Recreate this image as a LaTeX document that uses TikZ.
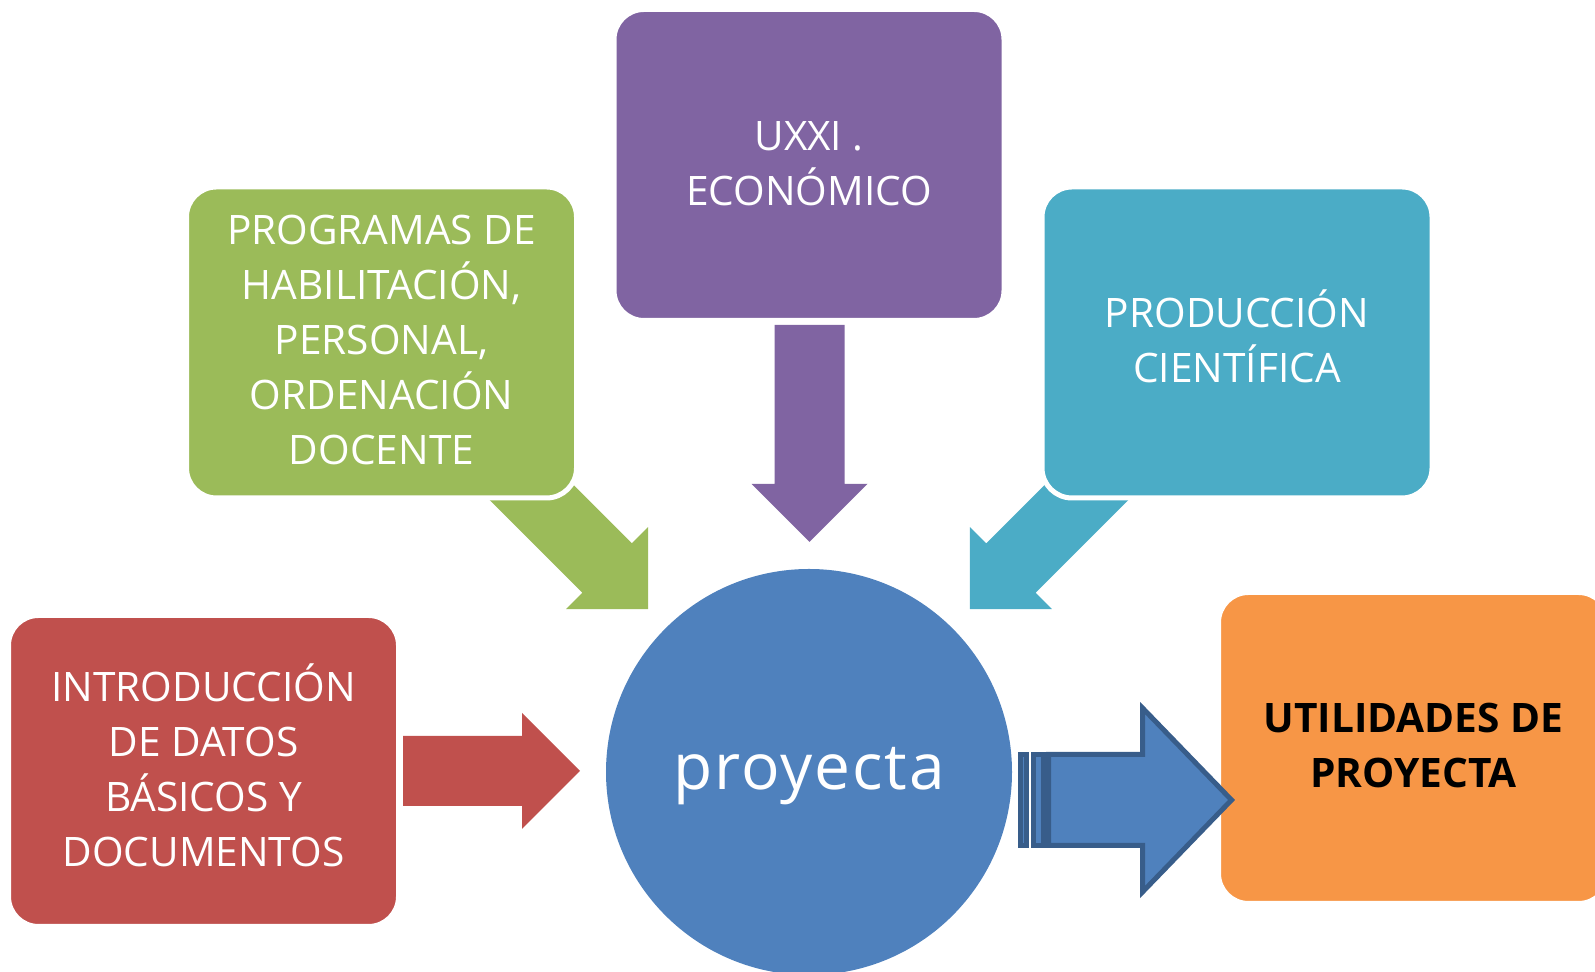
\documentclass[tikz,border=0pt]{standalone}
\usepackage{fontspec}
\setmainfont{Open Sans}
\newfontfamily\spacedfont[LetterSpace=3]{Open Sans}

\definecolor{morado}{HTML}{8064A2}
\definecolor{verde}{HTML}{9BBB59}
\definecolor{cian}{HTML}{4BACC6}
\definecolor{rojo}{HTML}{C0504D}
\definecolor{naranja}{HTML}{F79646}
\definecolor{azul}{HTML}{4F81BD}
\definecolor{azuloscuro}{HTML}{385D8A}

\newcommand{\printArrow}[5]{\fill [#5, shift={(#1,#2)}, rotate=#3] (0,-35) -- (#4,-35) -- (#4,-58) -- ({#4+58},0) -- (#4,58) -- (#4,35) -- (0,35) -- cycle;}

\tikzset{
  caja/.style={rectangle, rounded corners=15pt, draw=white, line width=2.5pt,
    minimum width=195pt, minimum height=155.5pt, inner sep=0pt, align=center,
    text=white, text depth=6pt, font=\fontsize{20.3}{27.5}\selectfont},
}

\begin{document}
\begin{tikzpicture}[x=0.5pt,y=0.5pt,line join=miter]
  \useasboundingbox (0,0) rectangle (1595,972);

  \printArrow{809.5}{647}{-90}{159}{morado}
  \printArrow{494.6}{516.4}{-45}{159}{verde}
  \printArrow{1123.4}{516.4}{-135}{159}{cian}
  \printArrow{403}{201}{0}{119}{rojo}

  \node [caja, fill=morado, text depth=1.5pt] (uxxi) at (809,807) {UXXI .\\ECONÓMICO};
  \node [caja, fill=verde, text depth=3pt] (programas) at (381.5,629.5) {PROGRAMAS DE\\HABILITACIÓN,\\PERSONAL,\\ORDENACIÓN\\DOCENTE};
  \node [caja, fill=cian] (produccion) at (1237,629.5) {PRODUCCIÓN\\CIENTÍFICA};
  \node [caja, fill=rojo] (introduccion) at (203.5,201) {INTRODUCCIÓN\\DE DATOS\\BÁSICOS Y\\DOCUMENTOS};
  \node [caja, fill=naranja, text=black, text depth=3pt, font=\fontsize{20.3}{27.5}\selectfont\bfseries] (utilidades) at (1413.5,224) {UTILIDADES DE\\PROYECTA};

  \node [circle, fill=azul, minimum size=203pt, inner sep=0pt, text=white, text depth=4pt,
    font=\spacedfont\fontsize{32}{38}\selectfont] (proyecta) at (809,200) {proyecta};

  \begin{scope}[fill=azul, draw=azuloscuro, line width=2.5pt]
    \filldraw (1020.5,126.5) rectangle (1026.5,217.5);
    \filldraw (1033.5,126.5) rectangle (1043.5,217.5);
    \filldraw (1048.5,126.5) -- (1142.5,126.5) -- (1142.5,80) -- (1231.5,172) -- (1142.5,264) -- (1142.5,217.5) -- (1048.5,217.5) -- cycle;
  \end{scope}
\end{tikzpicture}
\end{document}
